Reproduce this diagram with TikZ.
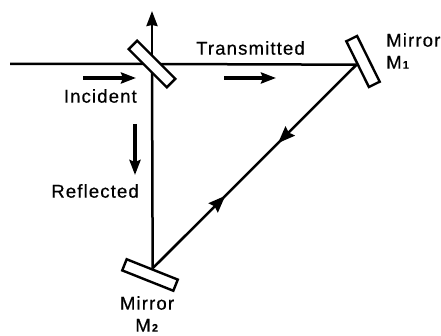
\documentclass[tikz,border=0pt]{standalone}
\usepackage{fontspec}
\setmainfont[LetterSpace=6,FakeBold=0.5]{Liberation Sans}
\usetikzlibrary{arrows.meta}
\usetikzlibrary{decorations.markings}
\usetikzlibrary{backgrounds}
\tikzset{
  mirrorbar/.style={draw=black,line width=2.4pt,fill=white,rectangle,minimum height=12pt,inner sep=0pt},
  beam/.style={line width=2.5pt,black},
  flowarrow/.style={line width=3.4pt,black,-{Stealth[length=15pt,width=11pt,inset=2pt]}},
  labeltext/.style={font=\fontsize{18.6}{22}\selectfont,inner sep=0pt,text=black}
}
\newcommand{\mirrorsub}[1]{{\fontsize{11}{11}\selectfont\textbf{#1}}}
\begin{document}
\begin{tikzpicture}[x=1pt,y=-1pt]
\useasboundingbox (0,0) rectangle (441,336);

% Splitter and the two mirrors
\node[mirrorbar,minimum width=54pt,rotate=-45] (splitter) at (152,64) {};
\node[mirrorbar,minimum width=51pt,rotate=-63.7] (mirrorOne) at (363,61.5) {};
\node[mirrorbar,minimum width=55pt,rotate=-21.7] (mirrorTwo) at (150,275) {};
\coordinate (source) at (10,64);
\coordinate (outTip) at (152,11);

% Beams, behind the mirrors
\begin{scope}[on background layer]
\draw[beam] (source) -- (splitter.center) -- (mirrorOne.south);
\draw[beam] (splitter.center) -- (mirrorTwo.north);
\draw[beam,-{Stealth[length=15pt,width=11pt,inset=1pt]}] (splitter.center) -- (outTip);
\draw[beam,decoration={markings,
    mark=at position 0.385 with {\arrow{Stealth[length=17pt,width=13pt,inset=2pt]}},
    mark=at position 0.644 with {\arrowreversed{Stealth[length=17pt,width=13pt,inset=2pt]}}},
    postaction={decorate}] (mirrorOne.south) -- (mirrorTwo.north);
\end{scope}

% Direction arrows
\coordinate (incidentA) at (83,78);
\coordinate (incidentB) at (136,78);
\coordinate (transA) at (224,78);
\coordinate (transB) at (276,78);
\coordinate (reflA) at (135,124);
\coordinate (reflB) at (135,175);
\draw[flowarrow] (incidentA) -- (incidentB);
\draw[flowarrow] (transA) -- (transB);
\draw[flowarrow] (reflA) -- (reflB);

% Labels
\node[labeltext,anchor=east] (incidentLabel) at (137,96) {Incident};
\node[labeltext,anchor=east] (transLabel) at (305,48) {Transmitted};
\node[labeltext,anchor=east] (reflLabel) at (139,191) {Reflected};
\node[labeltext,anchor=north west,align=left] (mirrorOneLabel) at (386,33) {Mirror\\M\mirrorsub{1}};
\node[labeltext,anchor=north,align=center] (mirrorTwoLabel) at (147,296) {Mirror\\M\mirrorsub{2}};
\end{tikzpicture}
\end{document}
